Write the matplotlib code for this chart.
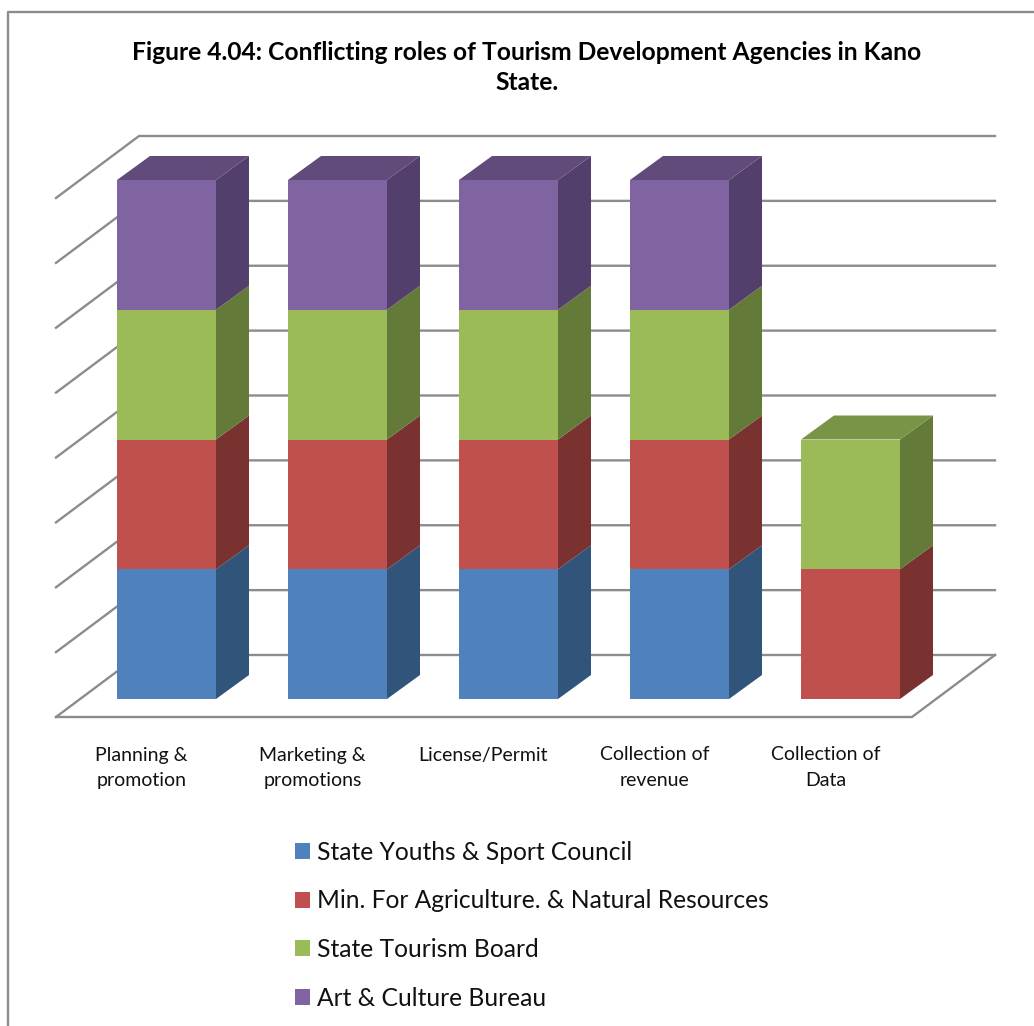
import matplotlib
matplotlib.use('Agg')
import matplotlib.pyplot as plt
from matplotlib.patches import Patch

categories = ['Planning &\npromotion', 'Marketing &\npromotions', 'License/Permit',
              'Collection of\nrevenue', 'Collection of\nData']
series_names = ['State Youths & Sport Council', 'Min. For Agriculture. & Natural Resources',
                'State Tourism Board', 'Art & Culture Bureau']
youths = [1, 1, 1, 1, 0]
agriculture = [1, 1, 1, 1, 1]
tourism = [1, 1, 1, 1, 1]
art = [1, 1, 1, 1, 0]
gridlevels = [0, 0.5, 1, 1.5, 2, 2.5, 3, 3.5, 4]

front = ['#4F81BD', '#C0504D', '#9BBB59', '#8064A2']
side = ['#31547B', '#7A3230', '#647A39', '#533F6B']
top = ['#3F689A', '#9C403E', '#7A9447', '#614B7A']

# pixel scale of the picture
W, H = 1034, 1026
PX_X = 171.0
PX_Y = 129.75
X0 = 166.5
Y0 = 699.0

fig = plt.figure(figsize=(W / 100, H / 100), dpi=100)
ax = fig.add_axes([0, 0, 1, 1])
ax.set_xlim(-X0 / PX_X, (W - X0) / PX_X)
ax.set_ylim((Y0 - H) / PX_Y, Y0 / PX_Y)
ax.axis('off')

plt.rcParams['font.family'] = ['Lato', 'DejaVu Sans']
grey = '#8c8c8c'

# depth of the bars and of the floor, in data units
bar_dx = 33 / PX_X
bar_dy = 24 / PX_Y
width = 99 / PX_X
floor_dx = 83 / PX_X
floor_dy = 62 / PX_Y
left = (56 - X0) / PX_X
right = (912 - X0) / PX_X
floor_y = (Y0 - 717) / PX_Y

# outer frame of the chart
ax.plot([(8 - X0) / PX_X, (8 - X0) / PX_X, (W - X0) / PX_X],
        [(Y0 - H) / PX_Y, (Y0 - 11.5) / PX_Y, (Y0 - 11.5) / PX_Y], color=grey, lw=1.7)

# walls
for g in gridlevels:
    y = floor_y + g
    ax.plot([left, left + floor_dx, right + floor_dx],
            [y, y + floor_dy, y + floor_dy], color=grey, lw=1.7, zorder=1)
ax.plot([left, right, right + floor_dx], [floor_y, floor_y, floor_y + floor_dy],
        color=grey, lw=1.7, zorder=1)

# stacked bars with fake depth
stacks = [youths, agriculture, tourism, art]
bottom = [0] * len(categories)
for s, vals in enumerate(stacks):
    for i, v in enumerate(vals):
        if v == 0:
            continue
        b = bottom[i]
        xl = i - width / 2
        xr = i + width / 2
        ax.bar(i, v, width=width, bottom=b, color=front[s], lw=0, zorder=3)
        ax.fill([xr, xr + bar_dx, xr + bar_dx, xr],
                [b, b + bar_dy, b + v + bar_dy, b + v], color=side[s], lw=0, zorder=3)
        # top face only on the last piece of the stack
        if s == len(stacks) - 1 or stacks[s + 1][i] == 0:
            ax.fill([xl, xl + bar_dx, xr + bar_dx, xr],
                    [b + v, b + v + bar_dy, b + v + bar_dy, b + v], color=top[s], lw=0, zorder=3)
    bottom = [a + c for a, c in zip(bottom, vals)]

# category labels
for i, c in enumerate(categories):
    ax.text(i - 25 / PX_X, (Y0 - 746.5) / PX_Y, c, ha='center', va='top', fontsize=14,
            color='#111111', linespacing=1.6)

fig.text(527 / W, 1 - 41 / H, 'Figure 4.04: Conflicting roles of Tourism Development Agencies in Kano\nState.',
         ha='center', va='top', fontsize=17.7, fontweight='bold', color='black', linespacing=1.36)

handles = [Patch(color=c, lw=0) for c in front]
fig.legend(handles, series_names, loc='upper left', bbox_to_anchor=(285 / W, 1 - 831 / H),
           frameon=False, fontsize=17.7, labelspacing=1.04, handlelength=0.62, handleheight=0.62,
           handletextpad=0.3, borderpad=0.4, borderaxespad=0, labelcolor='#111111')

fig.savefig('out.png', dpi=100)
